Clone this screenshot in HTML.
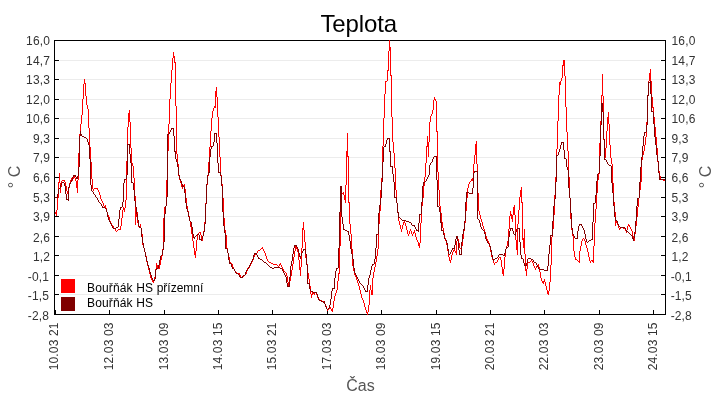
<!DOCTYPE html>
<html><head><meta charset="utf-8"><title>Teplota</title>
<style>
html,body{margin:0;padding:0;background:#fff;}
body{width:720px;height:400px;overflow:hidden;font-family:"Liberation Sans",sans-serif;}
svg{display:block;}
text{font-family:"Liberation Sans",sans-serif;}
</style></head><body>
<svg width="720" height="400" viewBox="0 0 720 400">
<rect width="720" height="400" fill="#fff"/>
<g shape-rendering="crispEdges" stroke="#ececec" stroke-width="1">
<line x1="60" y1="60.5" x2="660" y2="60.5"/>
<line x1="60" y1="79.5" x2="660" y2="79.5"/>
<line x1="60" y1="99.5" x2="660" y2="99.5"/>
<line x1="60" y1="118.5" x2="660" y2="118.5"/>
<line x1="60" y1="138.5" x2="660" y2="138.5"/>
<line x1="60" y1="157.5" x2="660" y2="157.5"/>
<line x1="60" y1="177.5" x2="660" y2="177.5"/>
<line x1="60" y1="197.5" x2="660" y2="197.5"/>
<line x1="60" y1="216.5" x2="660" y2="216.5"/>
<line x1="60" y1="236.5" x2="660" y2="236.5"/>
<line x1="60" y1="255.5" x2="660" y2="255.5"/>
<line x1="60" y1="275.5" x2="660" y2="275.5"/>
<line x1="60" y1="294.5" x2="660" y2="294.5"/>
</g>
<g shape-rendering="crispEdges" stroke="#000" stroke-width="1" fill="none">
<rect x="54.5" y="40.5" width="611" height="274"/>
<line x1="55" y1="60.5" x2="59" y2="60.5"/>
<line x1="661" y1="60.5" x2="665" y2="60.5"/>
<line x1="55" y1="79.5" x2="59" y2="79.5"/>
<line x1="661" y1="79.5" x2="665" y2="79.5"/>
<line x1="55" y1="99.5" x2="59" y2="99.5"/>
<line x1="661" y1="99.5" x2="665" y2="99.5"/>
<line x1="55" y1="118.5" x2="59" y2="118.5"/>
<line x1="661" y1="118.5" x2="665" y2="118.5"/>
<line x1="55" y1="138.5" x2="59" y2="138.5"/>
<line x1="661" y1="138.5" x2="665" y2="138.5"/>
<line x1="55" y1="157.5" x2="59" y2="157.5"/>
<line x1="661" y1="157.5" x2="665" y2="157.5"/>
<line x1="55" y1="177.5" x2="59" y2="177.5"/>
<line x1="661" y1="177.5" x2="665" y2="177.5"/>
<line x1="55" y1="197.5" x2="59" y2="197.5"/>
<line x1="661" y1="197.5" x2="665" y2="197.5"/>
<line x1="55" y1="216.5" x2="59" y2="216.5"/>
<line x1="661" y1="216.5" x2="665" y2="216.5"/>
<line x1="55" y1="236.5" x2="59" y2="236.5"/>
<line x1="661" y1="236.5" x2="665" y2="236.5"/>
<line x1="55" y1="255.5" x2="59" y2="255.5"/>
<line x1="661" y1="255.5" x2="665" y2="255.5"/>
<line x1="55" y1="275.5" x2="59" y2="275.5"/>
<line x1="661" y1="275.5" x2="665" y2="275.5"/>
<line x1="55" y1="294.5" x2="59" y2="294.5"/>
<line x1="661" y1="294.5" x2="665" y2="294.5"/>
<line x1="55.5" y1="310" x2="55.5" y2="314"/>
<line x1="109.5" y1="310" x2="109.5" y2="314"/>
<line x1="164.5" y1="310" x2="164.5" y2="314"/>
<line x1="218.5" y1="310" x2="218.5" y2="314"/>
<line x1="272.5" y1="310" x2="272.5" y2="314"/>
<line x1="327.5" y1="310" x2="327.5" y2="314"/>
<line x1="381.5" y1="310" x2="381.5" y2="314"/>
<line x1="436.5" y1="310" x2="436.5" y2="314"/>
<line x1="490.5" y1="310" x2="490.5" y2="314"/>
<line x1="544.5" y1="310" x2="544.5" y2="314"/>
<line x1="599.5" y1="310" x2="599.5" y2="314"/>
<line x1="653.5" y1="310" x2="653.5" y2="314"/>
</g>
<g fill="none" stroke-width="1" shape-rendering="crispEdges" stroke-linecap="butt">
<path stroke="#ff0000" d="M55.5,212v2M56.5,210v6M57.5,198v12M58.5,182v16M59.5,173v10M60.5,183v10M61.5,181v6M62.5,180v1M63.5,180v1M64.5,180v2M65.5,182v4M66.5,186v5M67.5,191v3M68.5,188v5M69.5,183v5M70.5,180v3M71.5,178v2M72.5,179v2M73.5,177v2M74.5,176v2M75.5,178v3M76.5,181v7M77.5,180v13M78.5,153v27M79.5,134v19M80.5,124v10M81.5,115v9M82.5,99v16M83.5,84v15M84.5,79v5M85.5,83v13M86.5,96v9M87.5,105v4M88.5,109v19M89.5,128v19M90.5,147v15M91.5,162v17M92.5,179v10M93.5,189v2M94.5,188v1M95.5,188v1M96.5,188v1M97.5,188v2M98.5,190v2M99.5,192v3M100.5,195v4M101.5,199v2M102.5,201v2M103.5,203v3M104.5,206v2M105.5,205v3M106.5,208v4M107.5,212v3M108.5,215v2M109.5,217v4M110.5,221v2M111.5,223v2M112.5,225v1M113.5,226v2M114.5,228v1M115.5,229v2M116.5,231v1M117.5,230v1M118.5,229v1M119.5,229v1M120.5,226v4M121.5,218v8M122.5,210v8M123.5,207v3M124.5,208v4M125.5,200v8M126.5,161v39M127.5,127v34M128.5,113v14M129.5,110v12M130.5,122v26M131.5,148v15M132.5,163v3M133.5,166v12M134.5,178v18M135.5,196v29M136.5,210v7M137.5,212v11M138.5,223v4M139.5,226v2M140.5,224v4M141.5,228v6M142.5,234v11M143.5,245v3M144.5,248v4M145.5,252v4M146.5,256v6M147.5,262v4M148.5,266v4M149.5,270v4M150.5,274v4M151.5,278v2M152.5,280v2M153.5,281v2M154.5,277v4M155.5,269v8M156.5,263v6M157.5,265v4M158.5,268v1M159.5,265v4M160.5,260v5M161.5,256v4M162.5,249v7M163.5,218v31M164.5,207v11M165.5,206v1M166.5,180v26M167.5,151v29M168.5,124v27M169.5,99v25M170.5,83v16M171.5,70v13M172.5,58v12M173.5,52v6M174.5,56v7M175.5,62v44M176.5,106v48M177.5,154v10M178.5,164v12M179.5,176v4M180.5,180v3M181.5,183v4M182.5,187v2M183.5,185v2M184.5,184v5M185.5,189v9M186.5,198v8M187.5,206v5M188.5,211v5M189.5,216v5M190.5,221v6M191.5,227v7M192.5,234v7M193.5,241v7M194.5,248v7M195.5,251v7M196.5,240v11M197.5,235v5M198.5,233v2M199.5,232v1M200.5,232v3M201.5,235v6M202.5,236v5M203.5,231v5M204.5,222v9M205.5,203v19M206.5,185v18M207.5,176v9M208.5,162v14M209.5,147v15M210.5,131v16M211.5,118v13M212.5,111v7M213.5,108v3M214.5,106v2M215.5,91v17M216.5,87v10M217.5,97v20M218.5,117v20M219.5,137v20M220.5,157v18M221.5,175v9M222.5,184v14M223.5,198v20M224.5,218v12M225.5,230v5M226.5,235v13M227.5,248v5M228.5,253v4M229.5,257v5M230.5,262v2M231.5,263v1M232.5,264v3M233.5,267v2M234.5,269v2M235.5,271v1M236.5,272v1M237.5,273v1M238.5,273v1M239.5,273v2M240.5,275v2M241.5,277v1M242.5,276v1M243.5,276v1M244.5,275v1M245.5,274v1M246.5,271v3M247.5,268v3M248.5,268v1M249.5,266v2M250.5,264v2M251.5,262v2M252.5,260v2M253.5,257v3M254.5,254v3M255.5,254v1M256.5,253v1M257.5,251v2M258.5,250v1M259.5,250v1M260.5,249v1M261.5,248v1M262.5,247v2M263.5,249v2M264.5,251v2M265.5,253v3M266.5,256v3M267.5,259v2M268.5,261v1M269.5,262v1M270.5,262v1M271.5,263v1M272.5,263v1M273.5,264v1M274.5,264v1M275.5,264v1M276.5,264v1M277.5,265v1M278.5,266v1M279.5,264v2M280.5,263v2M281.5,265v2M282.5,267v2M283.5,269v2M284.5,271v1M285.5,272v1M286.5,273v3M287.5,276v6M288.5,282v5M289.5,281v4M290.5,276v5M291.5,270v6M292.5,264v6M293.5,257v7M294.5,251v6M295.5,246v5M296.5,247v2M297.5,249v3M298.5,252v8M299.5,260v10M300.5,267v9M301.5,248v19M302.5,228v20M303.5,222v8M304.5,230v12M305.5,242v16M306.5,258v6M307.5,264v9M308.5,273v6M309.5,279v7M310.5,286v8M311.5,294v4M312.5,292v3M313.5,293v1M314.5,293v2M315.5,292v1M316.5,293v2M317.5,295v3M318.5,298v2M319.5,299v1M320.5,300v1M321.5,300v1M322.5,301v1M323.5,301v1M324.5,302v2M325.5,304v2M326.5,306v3M327.5,309v2M328.5,309v1M329.5,308v1M330.5,307v2M331.5,309v2M332.5,308v4M333.5,301v7M334.5,296v5M335.5,293v3M336.5,290v3M337.5,281v9M338.5,273v8M339.5,246v28M340.5,199v47M341.5,193v6M342.5,193v1M343.5,192v3M344.5,195v5M345.5,185v18M346.5,151v34M347.5,133v24M348.5,156v47M349.5,202v22M350.5,224v10M351.5,234v15M352.5,249v17M353.5,266v5M354.5,271v4M355.5,275v2M356.5,277v3M357.5,280v3M358.5,283v3M359.5,286v4M360.5,290v4M361.5,294v4M362.5,298v2M363.5,300v3M364.5,303v4M365.5,307v3M366.5,310v3M367.5,312v3M368.5,305v7M369.5,290v15M370.5,285v5M371.5,290v5M372.5,278v17M373.5,272v6M374.5,267v5M375.5,262v5M376.5,256v6M377.5,249v7M378.5,224v25M379.5,211v13M380.5,190v21M381.5,178v12M382.5,146v32M383.5,118v28M384.5,94v24M385.5,81v13M386.5,81v1M387.5,70v11M388.5,51v20M389.5,40v11M390.5,47v29M391.5,75v42M392.5,117v25M393.5,142v11M394.5,153v15M395.5,168v22M396.5,190v13M397.5,203v10M398.5,213v8M399.5,221v4M400.5,225v4M401.5,229v3M402.5,225v4M403.5,222v3M404.5,221v2M405.5,223v3M406.5,226v4M407.5,230v4M408.5,234v2M409.5,231v3M410.5,229v2M411.5,231v3M412.5,234v2M413.5,232v2M414.5,230v3M415.5,233v4M416.5,237v3M417.5,240v2M418.5,242v4M419.5,243v5M420.5,223v20M421.5,206v17M422.5,198v8M423.5,186v12M424.5,177v9M425.5,163v14M426.5,146v17M427.5,136v11M428.5,142v15M429.5,122v20M430.5,116v6M431.5,114v2M432.5,110v4M433.5,100v10M434.5,97v3M435.5,99v2M436.5,101v31M437.5,131v41M438.5,172v18M439.5,190v16M440.5,206v7M441.5,213v9M442.5,222v6M443.5,228v5M444.5,233v5M445.5,238v3M446.5,241v4M447.5,245v6M448.5,251v6M449.5,257v4M450.5,260v3M451.5,255v5M452.5,252v3M453.5,250v2M454.5,249v2M455.5,251v2M456.5,241v14M457.5,238v3M458.5,239v4M459.5,243v5M460.5,248v1M461.5,246v3M462.5,239v7M463.5,231v8M464.5,223v8M465.5,211v12M466.5,198v13M467.5,188v10M468.5,184v4M469.5,182v2M470.5,181v1M471.5,179v2M472.5,178v3M473.5,164v20M474.5,155v9M475.5,144v11M476.5,141v23M477.5,164v29M478.5,193v18M479.5,211v4M480.5,215v4M481.5,219v3M482.5,222v4M483.5,226v3M484.5,229v3M485.5,232v4M486.5,236v3M487.5,239v2M488.5,241v2M489.5,243v4M490.5,247v5M491.5,252v5M492.5,257v3M493.5,260v3M494.5,263v2M495.5,262v1M496.5,262v1M497.5,260v2M498.5,258v2M499.5,257v1M500.5,257v3M501.5,260v7M502.5,267v7M503.5,269v7M504.5,257v12M505.5,249v8M506.5,246v3M507.5,241v5M508.5,229v12M509.5,216v13M510.5,211v5M511.5,214v5M512.5,215v7M513.5,207v8M514.5,205v10M515.5,215v25M516.5,240v10M517.5,224v31M518.5,210v14M519.5,197v13M520.5,190v7M521.5,187v16M522.5,202v38M523.5,238v10M524.5,229v25M525.5,254v17M526.5,269v7M527.5,262v7M528.5,262v1M529.5,262v1M530.5,261v1M531.5,260v1M532.5,261v2M533.5,263v3M534.5,266v2M535.5,268v2M536.5,266v2M537.5,265v1M538.5,264v3M539.5,267v5M540.5,272v6M541.5,278v3M542.5,281v2M543.5,281v3M544.5,279v3M545.5,282v4M546.5,286v4M547.5,290v4M548.5,291v4M549.5,282v9M550.5,265v17M551.5,237v28M552.5,229v8M553.5,215v14M554.5,195v20M555.5,177v18M556.5,149v28M557.5,121v28M558.5,95v26M559.5,82v13M560.5,81v4M561.5,78v3M562.5,65v13M563.5,60v6M564.5,60v16M565.5,76v31M566.5,107v25M567.5,132v19M568.5,151v26M569.5,177v21M570.5,198v21M571.5,219v11M572.5,230v6M573.5,236v15M574.5,251v6M575.5,257v3M576.5,259v1M577.5,260v1M578.5,261v1M579.5,251v12M580.5,246v5M581.5,241v5M582.5,239v2M583.5,238v1M584.5,239v2M585.5,241v4M586.5,245v3M587.5,248v4M588.5,252v5M589.5,257v4M590.5,261v2M591.5,260v1M592.5,260v2M593.5,246v17M594.5,223v23M595.5,209v14M596.5,193v16M597.5,180v13M598.5,174v6M599.5,143v31M600.5,121v22M601.5,95v26M602.5,74v22M603.5,96v44M604.5,140v18M605.5,148v10M606.5,131v17M607.5,117v14M608.5,112v12M609.5,124v21M610.5,145v13M611.5,158v6M612.5,164v19M613.5,183v19M614.5,202v10M615.5,212v14M616.5,220v3M617.5,222v3M618.5,225v3M619.5,228v2M620.5,228v1M621.5,227v1M622.5,227v1M623.5,228v1M624.5,228v1M625.5,229v2M626.5,230v3M627.5,226v4M628.5,224v2M629.5,225v2M630.5,227v2M631.5,229v2M632.5,231v5M633.5,236v4M634.5,234v7M635.5,226v8M636.5,217v9M637.5,207v10M638.5,198v9M639.5,190v8M640.5,182v8M641.5,160v22M642.5,155v5M643.5,151v4M644.5,145v6M645.5,137v8M646.5,122v15M647.5,95v27M648.5,81v15M649.5,73v8M650.5,69v12M651.5,81v16M652.5,97v11M653.5,107v10M654.5,117v10M655.5,127v10M656.5,137v11M657.5,148v14M658.5,162v9M659.5,171v5M660.5,176v3M661.5,179v1M662.5,179v1M663.5,180v1M664.5,180v1"/>
<path stroke="#800000" d="M55.5,197v1M56.5,197v1M57.5,194v4M58.5,189v5M59.5,188v1M60.5,185v3M61.5,183v2M62.5,182v1M63.5,182v1M64.5,183v3M65.5,186v8M66.5,194v6M67.5,199v1M68.5,187v14M69.5,184v3M70.5,182v2M71.5,180v2M72.5,177v3M73.5,175v2M74.5,175v1M75.5,175v2M76.5,177v2M77.5,176v3M78.5,167v9M79.5,136v31M80.5,131v5M81.5,134v2M82.5,136v1M83.5,136v1M84.5,137v1M85.5,137v1M86.5,138v1M87.5,139v3M88.5,142v3M89.5,145v14M90.5,159v26M91.5,185v6M92.5,191v1M93.5,192v2M94.5,194v1M95.5,195v2M96.5,197v1M97.5,198v2M98.5,200v2M99.5,202v1M100.5,203v1M101.5,204v2M102.5,206v2M103.5,207v1M104.5,207v1M105.5,208v1M106.5,209v3M107.5,212v5M108.5,217v3M109.5,220v2M110.5,222v2M111.5,224v2M112.5,226v2M113.5,228v1M114.5,228v1M115.5,228v1M116.5,227v1M117.5,227v1M118.5,219v8M119.5,210v9M120.5,207v3M121.5,207v1M122.5,202v5M123.5,183v19M124.5,179v4M125.5,179v1M126.5,175v4M127.5,144v31M128.5,144v1M129.5,144v10M130.5,154v9M131.5,163v20M132.5,182v1M133.5,183v7M134.5,190v11M135.5,201v6M136.5,207v7M137.5,214v6M138.5,220v6M139.5,226v2M140.5,227v1M141.5,228v9M142.5,237v6M143.5,243v5M144.5,248v4M145.5,252v5M146.5,257v4M147.5,261v4M148.5,265v3M149.5,268v4M150.5,272v3M151.5,275v3M152.5,278v2M153.5,280v1M154.5,279v2M155.5,270v9M156.5,268v2M157.5,268v1M158.5,265v3M159.5,260v5M160.5,256v4M161.5,255v1M162.5,250v5M163.5,242v8M164.5,214v28M165.5,206v8M166.5,197v9M167.5,134v63M168.5,134v1M169.5,132v2M170.5,130v2M171.5,128v2M172.5,128v1M173.5,128v8M174.5,136v16M175.5,151v8M176.5,159v3M177.5,162v5M178.5,167v8M179.5,175v4M180.5,179v2M181.5,181v3M182.5,184v3M183.5,186v1M184.5,187v6M185.5,193v10M186.5,203v6M187.5,209v3M188.5,212v5M189.5,217v4M190.5,221v1M191.5,222v5M192.5,227v7M193.5,234v4M194.5,237v2M195.5,236v1M196.5,235v1M197.5,234v1M198.5,234v1M199.5,235v5M200.5,239v1M201.5,239v2M202.5,236v3M203.5,232v4M204.5,224v8M205.5,204v20M206.5,184v20M207.5,175v9M208.5,172v3M209.5,157v16M210.5,149v8M211.5,146v3M212.5,146v1M213.5,142v4M214.5,133v9M215.5,133v1M216.5,133v10M217.5,143v20M218.5,163v10M219.5,172v1M220.5,172v4M221.5,176v10M222.5,186v26M223.5,212v14M224.5,226v7M225.5,233v16M226.5,248v1M227.5,249v4M228.5,253v7M229.5,260v4M230.5,263v1M231.5,264v3M232.5,267v2M233.5,268v1M234.5,269v2M235.5,271v2M236.5,273v1M237.5,273v1M238.5,274v1M239.5,275v2M240.5,277v1M241.5,277v1M242.5,276v2M243.5,275v1M244.5,275v1M245.5,272v3M246.5,270v2M247.5,269v1M248.5,267v2M249.5,265v2M250.5,263v2M251.5,261v2M252.5,259v2M253.5,255v4M254.5,253v2M255.5,253v1M256.5,253v2M257.5,255v2M258.5,257v2M259.5,258v1M260.5,259v1M261.5,259v1M262.5,260v1M263.5,261v1M264.5,262v1M265.5,262v1M266.5,263v1M267.5,264v1M268.5,265v1M269.5,266v1M270.5,267v1M271.5,267v1M272.5,268v1M273.5,268v1M274.5,267v1M275.5,267v1M276.5,267v1M277.5,267v1M278.5,267v1M279.5,267v1M280.5,268v1M281.5,268v1M282.5,269v2M283.5,271v2M284.5,273v2M285.5,275v2M286.5,277v6M287.5,283v4M288.5,286v1M289.5,277v10M290.5,266v11M291.5,261v5M292.5,254v7M293.5,248v6M294.5,245v3M295.5,245v1M296.5,245v2M297.5,247v2M298.5,249v4M299.5,253v4M300.5,256v3M301.5,253v3M302.5,251v2M303.5,249v2M304.5,249v1M305.5,249v5M306.5,254v11M307.5,265v19M308.5,283v1M309.5,283v6M310.5,289v2M311.5,291v1M312.5,291v1M313.5,292v1M314.5,292v1M315.5,292v1M316.5,292v2M317.5,294v3M318.5,297v3M319.5,300v1M320.5,300v1M321.5,301v1M322.5,301v1M323.5,302v1M324.5,301v3M325.5,304v3M326.5,307v2M327.5,309v1M328.5,308v1M329.5,305v3M330.5,299v6M331.5,291v8M332.5,288v3M333.5,288v1M334.5,278v11M335.5,271v7M336.5,268v3M337.5,268v1M338.5,248v20M339.5,212v36M340.5,186v26M341.5,186v31M342.5,217v7M343.5,224v6M344.5,229v1M345.5,230v1M346.5,230v1M347.5,231v1M348.5,231v4M349.5,235v6M350.5,241v8M351.5,249v5M352.5,254v5M353.5,259v9M354.5,268v5M355.5,273v2M356.5,275v2M357.5,277v2M358.5,279v2M359.5,281v2M360.5,283v1M361.5,284v1M362.5,285v1M363.5,286v2M364.5,288v2M365.5,290v2M366.5,291v1M367.5,285v7M368.5,278v7M369.5,275v3M370.5,270v5M371.5,266v4M372.5,264v2M373.5,264v1M374.5,259v5M375.5,248v11M376.5,234v14M377.5,234v1M378.5,213v21M379.5,205v8M380.5,198v7M381.5,182v16M382.5,162v20M383.5,147v15M384.5,146v1M385.5,144v3M386.5,140v4M387.5,138v2M388.5,138v1M389.5,138v14M390.5,151v16M391.5,166v1M392.5,166v8M393.5,174v8M394.5,182v16M395.5,197v1M396.5,197v6M397.5,203v10M398.5,212v6M399.5,217v1M400.5,218v1M401.5,219v1M402.5,220v1M403.5,220v1M404.5,220v1M405.5,220v1M406.5,221v1M407.5,221v1M408.5,221v1M409.5,222v1M410.5,222v1M411.5,223v2M412.5,225v1M413.5,225v1M414.5,225v2M415.5,227v2M416.5,229v2M417.5,230v1M418.5,223v9M419.5,214v9M420.5,214v1M421.5,202v12M422.5,186v16M423.5,182v4M424.5,182v1M425.5,181v1M426.5,179v2M427.5,177v2M428.5,175v2M429.5,165v10M430.5,163v2M431.5,162v1M432.5,159v3M433.5,157v2M434.5,156v1M435.5,156v1M436.5,156v24M437.5,180v27M438.5,206v1M439.5,207v5M440.5,212v11M441.5,222v9M442.5,230v1M443.5,231v4M444.5,235v4M445.5,239v1M446.5,240v3M447.5,243v6M448.5,249v5M449.5,254v1M450.5,252v2M451.5,250v2M452.5,248v2M453.5,248v1M454.5,245v4M455.5,239v6M456.5,236v3M457.5,236v5M458.5,241v9M459.5,250v5M460.5,254v1M461.5,242v13M462.5,234v8M463.5,229v5M464.5,221v9M465.5,202v19M466.5,192v10M467.5,192v1M468.5,192v1M469.5,193v1M470.5,193v1M471.5,193v1M472.5,188v6M473.5,173v15M474.5,171v2M475.5,171v1M476.5,171v1M477.5,171v48M478.5,219v1M479.5,220v3M480.5,223v4M481.5,227v2M482.5,229v1M483.5,230v1M484.5,231v3M485.5,234v5M486.5,239v2M487.5,241v2M488.5,243v1M489.5,244v2M490.5,246v4M491.5,250v5M492.5,255v4M493.5,259v2M494.5,259v1M495.5,258v1M496.5,258v1M497.5,257v1M498.5,255v2M499.5,254v1M500.5,254v1M501.5,254v1M502.5,254v1M503.5,255v1M504.5,253v3M505.5,249v4M506.5,247v2M507.5,247v1M508.5,237v10M509.5,231v6M510.5,228v3M511.5,228v1M512.5,228v3M513.5,231v3M514.5,234v1M515.5,232v4M516.5,229v3M517.5,228v1M518.5,228v1M519.5,228v14M520.5,242v13M521.5,255v4M522.5,258v1M523.5,259v4M524.5,263v3M525.5,265v1M526.5,263v3M527.5,259v4M528.5,258v1M529.5,258v1M530.5,258v1M531.5,259v1M532.5,259v1M533.5,260v2M534.5,262v1M535.5,262v1M536.5,263v2M537.5,265v2M538.5,267v2M539.5,269v1M540.5,269v1M541.5,269v1M542.5,269v1M543.5,269v1M544.5,270v1M545.5,270v1M546.5,270v1M547.5,266v5M548.5,254v12M549.5,245v9M550.5,235v10M551.5,235v1M552.5,221v15M553.5,206v15M554.5,199v7M555.5,182v17M556.5,155v27M557.5,155v1M558.5,152v3M559.5,149v3M560.5,145v4M561.5,142v3M562.5,142v1M563.5,142v8M564.5,150v9M565.5,158v1M566.5,159v8M567.5,167v3M568.5,170v18M569.5,188v10M570.5,198v15M571.5,213v15M572.5,228v6M573.5,234v2M574.5,236v2M575.5,238v1M576.5,238v1M577.5,231v8M578.5,226v5M579.5,224v2M580.5,224v1M581.5,224v2M582.5,226v2M583.5,228v2M584.5,230v4M585.5,234v5M586.5,239v3M587.5,242v1M588.5,241v1M589.5,240v1M590.5,240v1M591.5,239v1M592.5,222v18M593.5,203v19M594.5,203v1M595.5,195v8M596.5,181v14M597.5,174v7M598.5,173v1M599.5,156v17M600.5,125v31M601.5,103v22M602.5,103v9M603.5,112v27M604.5,139v21M605.5,159v1M606.5,160v2M607.5,162v2M608.5,164v1M609.5,165v1M610.5,165v1M611.5,166v17M612.5,183v10M613.5,193v13M614.5,206v11M615.5,217v4M616.5,220v1M617.5,221v3M618.5,224v2M619.5,226v1M620.5,227v1M621.5,227v1M622.5,227v1M623.5,227v1M624.5,227v1M625.5,228v2M626.5,230v2M627.5,231v1M628.5,232v1M629.5,233v1M630.5,234v1M631.5,235v1M632.5,236v3M633.5,238v3M634.5,232v6M635.5,221v11M636.5,206v15M637.5,198v8M638.5,198v1M639.5,182v16M640.5,167v15M641.5,157v10M642.5,146v11M643.5,136v10M644.5,132v4M645.5,132v1M646.5,125v7M647.5,95v30M648.5,82v14M649.5,82v1M650.5,81v13M651.5,94v18M652.5,111v1M653.5,112v12M654.5,124v13M655.5,137v8M656.5,145v10M657.5,155v6M658.5,161v12M659.5,173v7M660.5,179v1M661.5,179v1M662.5,179v1M663.5,179v1M664.5,179v1"/>
</g>
<g style="mix-blend-mode:multiply">
<g font-size="12" fill="#333">
<text x="50.2" y="44.80" text-anchor="end" letter-spacing="0.2">16,0</text>
<text x="671.5" y="44.80" letter-spacing="0.18">16,0</text>
<text x="50.2" y="64.87" text-anchor="end" letter-spacing="0.2">14,7</text>
<text x="671.5" y="64.87" letter-spacing="0.18">14,7</text>
<text x="50.2" y="83.94" text-anchor="end" letter-spacing="0.2">13,3</text>
<text x="671.5" y="83.94" letter-spacing="0.18">13,3</text>
<text x="50.2" y="104.01" text-anchor="end" letter-spacing="0.2">12,0</text>
<text x="671.5" y="104.01" letter-spacing="0.18">12,0</text>
<text x="50.2" y="123.08" text-anchor="end" letter-spacing="0.2">10,6</text>
<text x="671.5" y="123.08" letter-spacing="0.18">10,6</text>
<text x="50.2" y="143.15" text-anchor="end" letter-spacing="0.2">9,3</text>
<text x="671.5" y="143.15" letter-spacing="0.18">9,3</text>
<text x="50.2" y="162.22" text-anchor="end" letter-spacing="0.2">7,9</text>
<text x="671.5" y="162.22" letter-spacing="0.18">7,9</text>
<text x="50.2" y="182.29" text-anchor="end" letter-spacing="0.2">6,6</text>
<text x="671.5" y="182.29" letter-spacing="0.18">6,6</text>
<text x="50.2" y="202.36" text-anchor="end" letter-spacing="0.2">5,3</text>
<text x="671.5" y="202.36" letter-spacing="0.18">5,3</text>
<text x="50.2" y="221.43" text-anchor="end" letter-spacing="0.2">3,9</text>
<text x="671.5" y="221.43" letter-spacing="0.18">3,9</text>
<text x="50.2" y="241.50" text-anchor="end" letter-spacing="0.2">2,6</text>
<text x="671.5" y="241.50" letter-spacing="0.18">2,6</text>
<text x="50.2" y="260.57" text-anchor="end" letter-spacing="0.2">1,2</text>
<text x="671.5" y="260.57" letter-spacing="0.18">1,2</text>
<text x="49.2" y="280.64" text-anchor="end" letter-spacing="0.2">-0,1</text>
<text x="670.7" y="280.64" letter-spacing="0.1">-0,1</text>
<text x="49.2" y="299.71" text-anchor="end" letter-spacing="0.2">-1,5</text>
<text x="670.7" y="299.71" letter-spacing="0.1">-1,5</text>
<text x="49.2" y="319.78" text-anchor="end" letter-spacing="0.2">-2,8</text>
<text x="670.7" y="319.78" letter-spacing="0.1">-2,8</text>
</g>
<g font-size="12" fill="#333">
<text transform="translate(57.7,370.3) rotate(-90)" textLength="47.8" lengthAdjust="spacing">10.03 21</text>
<text transform="translate(112.7,370.3) rotate(-90)" textLength="47.8" lengthAdjust="spacing">12.03 03</text>
<text transform="translate(167.7,370.3) rotate(-90)" textLength="47.8" lengthAdjust="spacing">13.03 09</text>
<text transform="translate(221.7,370.3) rotate(-90)" textLength="47.8" lengthAdjust="spacing">14.03 15</text>
<text transform="translate(275.7,370.3) rotate(-90)" textLength="47.8" lengthAdjust="spacing">15.03 21</text>
<text transform="translate(330.7,370.3) rotate(-90)" textLength="47.8" lengthAdjust="spacing">17.03 03</text>
<text transform="translate(384.7,370.3) rotate(-90)" textLength="47.8" lengthAdjust="spacing">18.03 09</text>
<text transform="translate(439.7,370.3) rotate(-90)" textLength="47.8" lengthAdjust="spacing">19.03 15</text>
<text transform="translate(493.7,370.3) rotate(-90)" textLength="47.8" lengthAdjust="spacing">20.03 21</text>
<text transform="translate(547.7,370.3) rotate(-90)" textLength="47.8" lengthAdjust="spacing">22.03 03</text>
<text transform="translate(602.7,370.3) rotate(-90)" textLength="47.8" lengthAdjust="spacing">23.03 09</text>
<text transform="translate(656.7,370.3) rotate(-90)" textLength="47.8" lengthAdjust="spacing">24.03 15</text>
</g>
<rect x="61" y="279" width="14" height="14" fill="#ff0000"/>
<rect x="61" y="297" width="14" height="14" fill="#800000"/>
<g font-size="12" fill="#000">
<text x="87" y="291.6"><tspan letter-spacing="0.15">Bouřňák HS </tspan>přízemní</text>
<text x="87" y="307.2" letter-spacing="0.15">Bouřňák HS</text>
</g>
<text x="320.4" y="32" font-size="24" textLength="76.8" lengthAdjust="spacing" fill="#000">Teplota</text>
<text x="360.5" y="390.5" font-size="16" text-anchor="middle" fill="#555">Čas</text>
<text transform="translate(20,177) rotate(-90)" font-size="16" text-anchor="middle" fill="#555">° C</text>
<text transform="translate(711,177) rotate(-90)" font-size="16" text-anchor="middle" fill="#555">° C</text>
</g>
</svg></body></html>
